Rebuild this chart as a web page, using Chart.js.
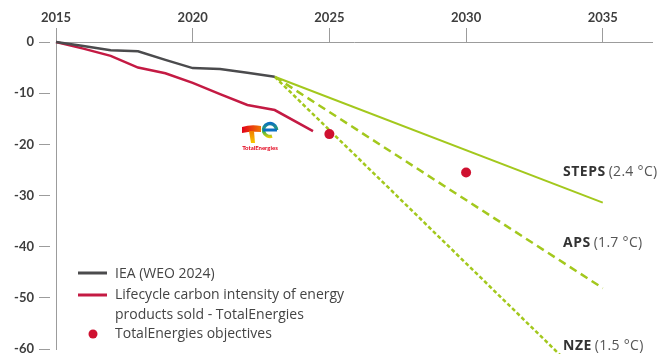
<!DOCTYPE html>
<html>
<head>
<meta charset="utf-8">
<script src="https://cdn.jsdelivr.net/npm/chart.js@4/dist/chart.umd.min.js"></script>
<style>
  html, body { margin: 0; padding: 0; background: #ffffff; }
  #wrap { width: 657px; height: 354px; position: relative; }
</style>
</head>
<body>
<div id="wrap"><canvas id="c" width="657" height="354"></canvas></div>
<script>
// Historical series (change vs 2015, %)
const historyYears = [2015, 2016, 2017, 2018, 2019, 2020, 2021, 2022, 2023];
const ieaValues = [0, -0.8, -1.6, -1.8, -3.5, -5.1, -5.3, -6.0, -6.8];

const lifecycleYears = [2015, 2016, 2017, 2018, 2019, 2020, 2021, 2022, 2023, 2024.4];
const lifecycleValues = [0, -1.3, -2.7, -5.0, -6.1, -8.0, -10.2, -12.3, -13.3, -17.4];

// Company targets
const objectiveYears = [2025, 2030];
const objectiveValues = [-18, -25.5];

// IEA scenario projections from 2023 to 2035
const scenarioYears = [2023, 2035];
const stepsValues = [-6.8, -31.4];
const apsValues = [-6.8, -48.1];
const nzeValues = [-6.8, -69.3];

const scenarioNames = ['STEPS', 'APS', 'NZE'];
const scenarioTemps = ['(2.4 °C)', '(1.7 °C)', '(1.5 °C)'];

const legendLabels = ['IEA (WEO 2024)', 'Lifecycle carbon intensity of energy', 'products sold - TotalEnergies', 'TotalEnergies objectives'];

const COLORS = {
  iea: '#4b4b4d',
  lifecycle: '#c41a43',
  objective: '#cf1130',
  scenario: '#a3c81d',
  axis: '#9c9c9c',
  tick: '#3e3e3e',
  text: '#444444'
};

const toPoints = (xs, ys) => xs.map((x, i) => ({ x: x, y: ys[i] }));

// Scenario names at the end of each projection, legend block and brand mark
const annotations = {
  id: 'annotations',
  afterDatasetsDraw(chart) {
    const ctx = chart.ctx;
    ctx.save();

    // scenario labels
    const labelY = [172, 243, 346];
    ctx.textBaseline = 'middle';
    scenarioNames.forEach((name, i) => {
      const x = 563;
      ctx.letterSpacing = '0.5px';
      ctx.font = 'bold 14px "Open Sans"';
      ctx.fillStyle = '#333333';
      ctx.fillText(name, x, labelY[i]);
      const w = ctx.measureText(name).width;
      ctx.letterSpacing = '0.3px';
      ctx.font = '14px "Open Sans"';
      ctx.fillStyle = '#555555';
      ctx.fillText(scenarioTemps[i], x + w + 3, labelY[i]);
    });
    ctx.letterSpacing = '0px';

    // legend
    ctx.lineWidth = 3;
    ctx.strokeStyle = COLORS.iea;
    ctx.beginPath(); ctx.moveTo(78, 273); ctx.lineTo(107, 273); ctx.stroke();
    ctx.strokeStyle = COLORS.lifecycle;
    ctx.beginPath(); ctx.moveTo(78, 295); ctx.lineTo(107, 295); ctx.stroke();
    ctx.fillStyle = COLORS.objective;
    ctx.beginPath(); ctx.arc(93, 334, 4.5, 0, Math.PI * 2); ctx.fill();

    ctx.font = '14px "Open Sans"';
    ctx.fillStyle = COLORS.text;
    ctx.textAlign = 'left';
    const rows = [274, 295, 315, 334];
    legendLabels.forEach((t, i) => ctx.fillText(t, 115, rows[i]));

    // brand mark
    const tg = ctx.createLinearGradient(242, 0, 262, 0);
    tg.addColorStop(0, '#e2001a');
    tg.addColorStop(1, '#f07d00');
    ctx.fillStyle = tg;
    ctx.beginPath();
    ctx.moveTo(242, 127); ctx.quadraticCurveTo(251, 124, 261, 126);
    ctx.lineTo(261, 132); ctx.quadraticCurveTo(251, 131, 242, 133);
    ctx.closePath(); ctx.fill();
    const sg = ctx.createLinearGradient(0, 131, 0, 143);
    sg.addColorStop(0, '#f07d00');
    sg.addColorStop(1, '#f7c600');
    ctx.fillStyle = sg;
    ctx.beginPath();
    ctx.moveTo(249, 131); ctx.lineTo(254, 131); ctx.lineTo(255, 143); ctx.lineTo(251, 143);
    ctx.closePath(); ctx.fill();
    const eg = ctx.createLinearGradient(0, 123, 0, 138);
    eg.addColorStop(0, '#0a6fc2');
    eg.addColorStop(0.55, '#37b24d');
    eg.addColorStop(1, '#f5d000');
    ctx.strokeStyle = eg;
    ctx.lineWidth = 3.5;
    ctx.beginPath(); ctx.arc(270, 130, 6.5, Math.PI * 0.4, Math.PI * 2, false); ctx.stroke();
    ctx.strokeStyle = '#0a6fc2';
    ctx.lineWidth = 3;
    ctx.beginPath(); ctx.moveTo(263, 130); ctx.lineTo(277, 130); ctx.stroke();
    ctx.font = 'bold 6px Lato';
    ctx.fillStyle = '#e2001a';
    ctx.textAlign = 'center';
    ctx.fillText('TotalEnergies', 260, 148);

    ctx.restore();
  }
};

new Chart(document.getElementById('c'), {
  type: 'line',
  data: {
    datasets: [
      {
        type: 'scatter',
        label: 'TotalEnergies objectives',
        data: toPoints(objectiveYears, objectiveValues),
        backgroundColor: COLORS.objective,
        borderWidth: 0,
        pointRadius: 5,
        clip: false
      },
      {
        label: 'IEA (WEO 2024)',
        data: toPoints(historyYears, ieaValues),
        borderColor: COLORS.iea,
        borderWidth: 2.5,
        pointRadius: 0,
        clip: false
      },
      {
        label: 'Lifecycle carbon intensity of energy products sold - TotalEnergies',
        data: toPoints(lifecycleYears, lifecycleValues),
        borderColor: COLORS.lifecycle,
        borderWidth: 2.5,
        pointRadius: 0,
        clip: false
      },
      {
        label: 'STEPS',
        data: toPoints(scenarioYears, stepsValues),
        borderColor: COLORS.scenario,
        borderWidth: 2,
        pointRadius: 0,
        clip: false
      },
      {
        label: 'APS',
        data: toPoints(scenarioYears, apsValues),
        borderColor: COLORS.scenario,
        borderWidth: 2.5,
        borderDash: [8, 5],
        pointRadius: 0,
        clip: false
      },
      {
        label: 'NZE',
        data: toPoints(scenarioYears, nzeValues),
        borderColor: COLORS.scenario,
        borderWidth: 2.5,
        borderDash: [4, 2.5],
        pointRadius: 0,
        clip: false
      }
    ]
  },
  options: {
    responsive: false,
    animation: false,
    layout: { padding: { top: 0, left: 0, right: 2, bottom: 3 } },
    plugins: {
      legend: { display: false },
      tooltip: { enabled: false }
    },
    scales: {
      x: {
        type: 'linear',
        position: 'top',
        min: 2015,
        max: 2036.8,
        afterFit(scale) { scale.height = 42; },
        ticks: {
          stepSize: 5,
          includeBounds: false,
          padding: 2,
          color: COLORS.tick,
          font: { family: 'Lato', size: 13, weight: 'bold' },
          callback: v => String(v)
        },
        grid: {
          drawOnChartArea: false,
          tickLength: 14,
          color: COLORS.axis,
          tickColor: COLORS.axis
        },
        border: { color: COLORS.axis, width: 1 }
      },
      y: {
        min: -60,
        max: 0,
        afterFit(scale) {
          scale.width = 56;
          scale.paddingTop = 0;
          scale.paddingBottom = 0;
        },
        ticks: {
          stepSize: 10,
          padding: 5,
          color: COLORS.tick,
          font: { family: 'Lato', size: 13, weight: 'bold' },
          callback: v => String(v)
        },
        grid: {
          drawOnChartArea: false,
          tickLength: 17,
          tickBorderDash: [11, 40],
          color: COLORS.axis,
          tickColor: COLORS.axis
        },
        border: { color: COLORS.axis, width: 1 }
      }
    }
  },
  plugins: [annotations]
});
</script>
</body>
</html>
